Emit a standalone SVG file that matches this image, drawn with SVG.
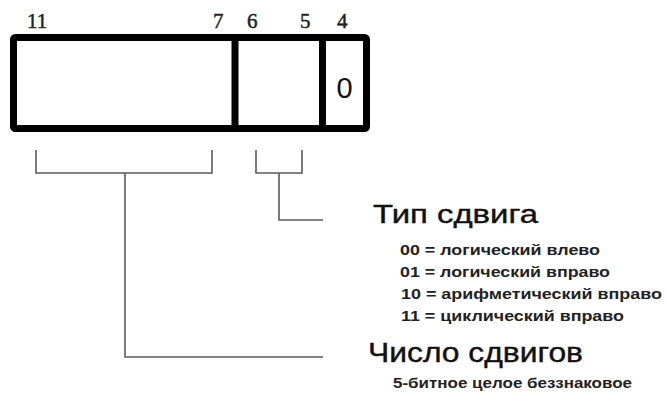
<svg xmlns="http://www.w3.org/2000/svg" width="668" height="401" viewBox="0 0 668 401">
  <style>
    .cell { fill: #fff; stroke: #000; stroke-width: 7; stroke-linejoin: round; }
    .div { stroke: #000; stroke-width: 7; }
    .bit { font-family: "Liberation Serif", "Times New Roman", serif; font-size: 21px; fill: #222; stroke: #222; stroke-width: 0.5; }
    .val { font-family: "Liberation Sans", Arial, sans-serif; font-size: 29px; fill: #111; }
    .title { font-family: "Liberation Sans", Arial, sans-serif; fill: #111; stroke: #111; stroke-width: 0.4; }
    .item { font-family: "Liberation Sans", Arial, sans-serif; font-size: 14px; font-weight: bold; fill: #222; }
    .conn { fill: none; stroke: #5a5a5a; stroke-width: 1.6; }
  </style>

  <!-- instruction field with bit boundaries -->
  <g id="field">
    <rect class="cell" x="13.5" y="37.5" width="353" height="91" rx="2"/>
    <line class="div" x1="235" y1="37.5" x2="235" y2="128.5"/>
    <line class="div" x1="322.5" y1="37.5" x2="322.5" y2="128.5"/>
    <text class="val" x="344.5" y="98" text-anchor="middle">0</text>
  </g>

  <g id="bit-numbers">
    <text class="bit" x="27" y="28">11</text>
    <text class="bit" x="213" y="28">7</text>
    <text class="bit" x="247" y="28">6</text>
    <text class="bit" x="300" y="28">5</text>
    <text class="bit" x="337" y="28">4</text>
  </g>

  <!-- brackets from bit ranges to their descriptions -->
  <g id="connectors">
    <path class="conn" d="M36 150 V173 H212 V150"/>
    <path class="conn" d="M125 173 V357 H323"/>
    <path class="conn" d="M256 150 V173 H302 V150"/>
    <path class="conn" d="M279 173 V220 H323"/>
  </g>

  <g id="shift-type">
    <text class="title" x="373" y="223" font-size="26" textLength="165" lengthAdjust="spacingAndGlyphs">Тип сдвига</text>
    <text class="item" x="400" y="255" textLength="200" lengthAdjust="spacingAndGlyphs">00 = логический влево</text>
    <text class="item" x="400" y="277" textLength="210" lengthAdjust="spacingAndGlyphs">01 = логический вправо</text>
    <text class="item" x="401" y="299" textLength="261" lengthAdjust="spacingAndGlyphs">10 = арифметический вправо</text>
    <text class="item" x="401" y="321" textLength="223" lengthAdjust="spacingAndGlyphs">11 = циклический вправо</text>
  </g>

  <g id="shift-count">
    <text class="title" x="368" y="362" font-size="27" textLength="215" lengthAdjust="spacingAndGlyphs">Число сдвигов</text>
    <text class="item" x="393" y="388" font-size="11.5px" textLength="239" lengthAdjust="spacingAndGlyphs">5-битное целое беззнаковое</text>
  </g>
</svg>
